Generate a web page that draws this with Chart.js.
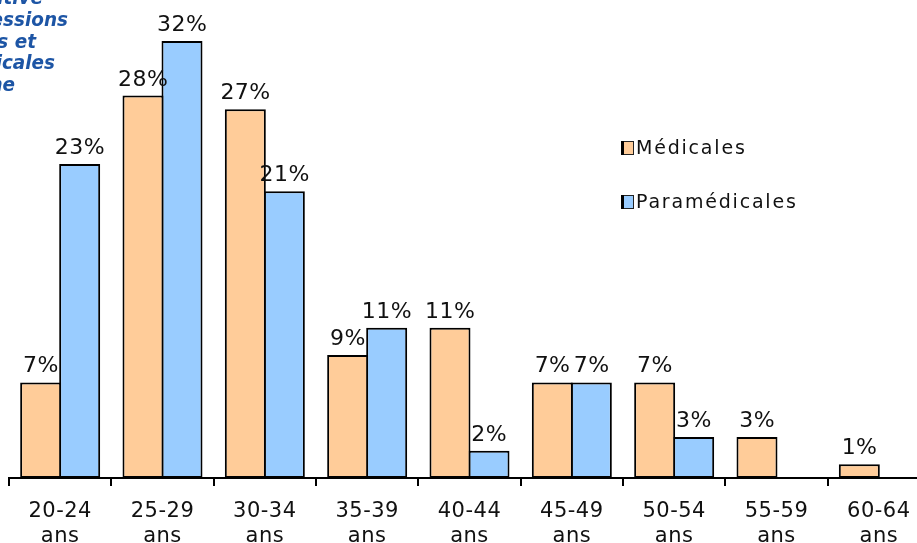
<!DOCTYPE html>
<html lang="fr">
<head>
<meta charset="utf-8">
<script src="https://cdn.jsdelivr.net/npm/chart.js@4/dist/chart.umd.min.js"></script>
<style>
  html, body { margin: 0; padding: 0; background: #fff; overflow: hidden; }
  #wrap { width: 945px; height: 543px; }
</style>
</head>
<body>
<div id="wrap"><canvas id="c" width="945" height="543"></canvas></div>
<script>
// Tranches d'âge et répartition (%) par type de profession
const ageGroups = ["20-24", "25-29", "30-34", "35-39", "40-44", "45-49", "50-54", "55-59", "60-64"];
const ageUnit = "ans";
const medicales = [7, 28, 27, 9, 11, 7, 7, 3, 1];
const paramedicales = [23, 32, 21, 11, 2, 7, 3, null, null];
const seriesNames = ["Médicales", "Paramédicales"];
const seriesColors = ["#FFCC99", "#99CCFF"];
// Fin du titre, une ligne par entrée
const titleLines = ["comparative", "des professions", "médicales et", "paramédicales", "Guyane"];

const FONT = "'DejaVu Sans', Verdana, sans-serif";

// Titre en haut à gauche (aligné à droite, débordant du cadre)
const titlePlugin = {
  id: 'titleBlock',
  afterDraw(chart) {
    const ctx = chart.ctx;
    const rights = [43, 68, 36, 55, 15];
    const baselines = [4, 26, 47.5, 69, 91];
    const sx = 0.92;
    ctx.save();
    ctx.letterSpacing = '0px';
    ctx.font = "italic bold 20px " + FONT;
    ctx.fillStyle = '#1d55a5';
    ctx.textAlign = 'right';
    ctx.textBaseline = 'alphabetic';
    titleLines.forEach((t, i) => {
      ctx.save();
      ctx.translate(rights[i], baselines[i]);
      ctx.scale(sx, 1);
      ctx.fillText(t, 0, 0);
      ctx.restore();
    });
    ctx.restore();
  }
};

// Valeurs au-dessus des barres
const valueLabels = {
  id: 'valueLabels',
  afterDatasetsDraw(chart) {
    const ctx = chart.ctx;
    const sp = 0.5;
    ctx.save();
    ctx.letterSpacing = sp + 'px';
    ctx.font = "22px " + FONT;
    ctx.fillStyle = '#111';
    ctx.textAlign = 'center';
    ctx.textBaseline = 'alphabetic';
    chart.data.datasets.forEach((ds, di) => {
      const meta = chart.getDatasetMeta(di);
      meta.data.forEach((bar, i) => {
        const v = ds.data[i];
        if (v === null || v === undefined) return;
        ctx.fillText(v + '%', bar.x + sp / 2, bar.y - 10);
      });
    });
    ctx.restore();
  }
};

// Légende à droite
const legendBlock = {
  id: 'legendBlock',
  afterDraw(chart) {
    const ctx = chart.ctx;
    const rows = [148, 202];
    ctx.save();
    ctx.letterSpacing = '1.8px';
    ctx.font = "19px " + FONT;
    ctx.textAlign = 'left';
    ctx.textBaseline = 'middle';
    chart.data.datasets.forEach((ds, i) => {
      const y = rows[i];
      ctx.fillStyle = ds.backgroundColor;
      ctx.fillRect(621, y - 7, 13, 14);
      ctx.strokeStyle = '#222';
      ctx.lineWidth = 1;
      ctx.strokeRect(621.5, y - 6.5, 12, 13);
      ctx.fillStyle = '#000';
      ctx.fillRect(621, y - 7, 3, 14);
      ctx.fillStyle = '#111';
      ctx.fillText(ds.label, 636, y + 1);
    });
    ctx.restore();
  }
};

// Espacement des lettres des étiquettes d'axe
const tickSpacing = {
  id: 'tickSpacing',
  beforeDraw(chart) { chart.ctx.letterSpacing = '0.5px'; }
};

new Chart(document.getElementById('c'), {
  type: 'bar',
  data: {
    labels: ageGroups.map(g => [g, ageUnit]),
    datasets: [
      { label: seriesNames[0], data: medicales, backgroundColor: seriesColors[0] },
      { label: seriesNames[1], data: paramedicales, backgroundColor: seriesColors[1] }
    ]
  },
  options: {
    responsive: false,
    animation: false,
    devicePixelRatio: 1,
    layout: { padding: { left: 9, right: 15, top: 0, bottom: 0 } },
    datasets: {
      bar: {
        borderColor: '#000',
        borderWidth: 2,
        borderSkipped: false,
        categoryPercentage: 0.7625,
        barPercentage: 1.051
      }
    },
    plugins: {
      legend: { display: false },
      tooltip: { enabled: false },
      title: { display: false }
    },
    scales: {
      y: { display: false, min: 0, max: 35 },
      x: {
        afterFit(scale) { scale.height = 65; },
        border: { display: true, color: '#000', width: 2 },
        grid: {
          display: true,
          drawOnChartArea: false,
          drawTicks: true,
          tickLength: 8,
          tickColor: '#000',
          tickWidth: 2,
          color: '#000',
          lineWidth: 2,
          offset: true
        },
        ticks: {
          color: '#111',
          font: { family: FONT, size: 21, lineHeight: 1.2 },
          padding: 13,
          maxRotation: 0,
          autoSkip: false
        }
      }
    }
  },
  plugins: [tickSpacing, valueLabels, legendBlock, titlePlugin]
});
</script>
</body>
</html>
